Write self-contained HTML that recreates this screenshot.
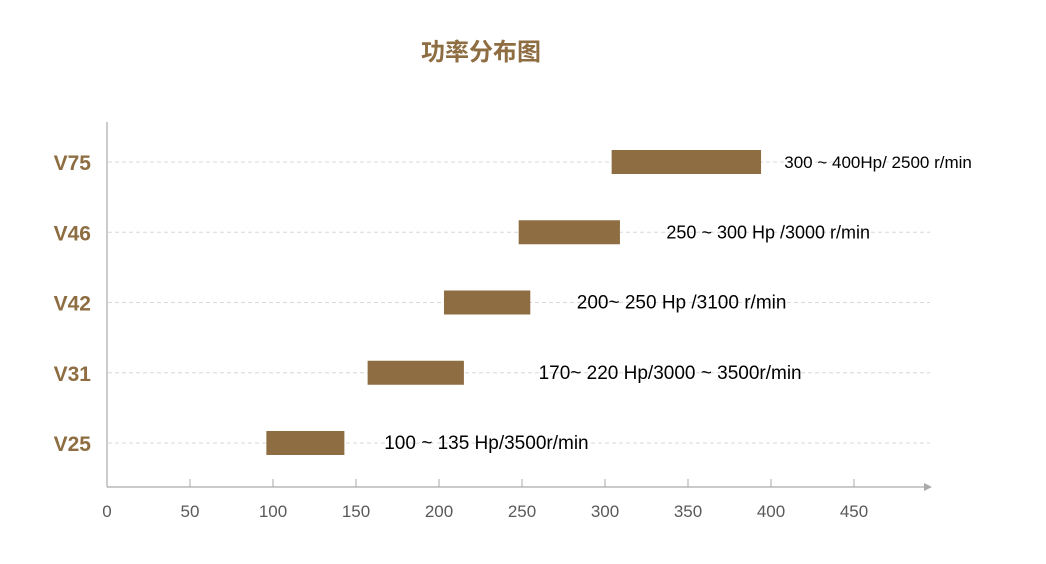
<!DOCTYPE html>
<html><head><meta charset="utf-8"><style>
html,body{margin:0;padding:0;background:#fff;width:1046px;height:564px;overflow:hidden}
text{font-family:"Liberation Sans","Noto Sans CJK SC",sans-serif}
</style></head><body>
<svg id="chart" width="1046" height="564" xmlns="http://www.w3.org/2000/svg">
<defs>
<linearGradient id="gl" x1="0" x2="1"><stop offset="0" stop-color="#8d6d41" stop-opacity="0"/><stop offset="1" stop-color="#8d6d41"/></linearGradient>
<linearGradient id="gr" x1="0" x2="1"><stop offset="0" stop-color="#8d6d41"/><stop offset="1" stop-color="#8d6d41" stop-opacity="0"/></linearGradient>
</defs>
<line x1="145" y1="50" x2="383" y2="50" stroke="url(#gl)" stroke-width="1.5"/>
<line x1="578" y1="50" x2="815" y2="50" stroke="url(#gr)" stroke-width="1.5"/>
<text x="481" y="60" text-anchor="middle" font-size="24" font-weight="bold" fill="#8d6d41">功率分布图</text>
<g id="grid"></g><g id="bars"></g><g id="axes"></g>
</svg>
<script>
const categories = ["V75","V46","V42","V31","V25"];
const startValues = [304, 248, 203, 157, 96];
const endValues = [394, 309, 255, 215, 143];
const barLabels = ["300 ~ 400Hp/ 2500 r/min","250 ~ 300 Hp /3000 r/min","200~ 250 Hp /3100 r/min","170~ 220 Hp/3000 ~ 3500r/min","100 ~ 135 Hp/3500r/min"];
const labelValues = [408, 337, 283, 260, 167];
const labelSizes = [17, 18, 19, 19, 19];
const xTicks = [0,50,100,150,200,250,300,350,400,450];

const NS="http://www.w3.org/2000/svg";
const x0=107, xScale=1.66;
const X=v=>x0+v*xScale;
const rowY=[162,233,303,373,443];
const Y=i=>rowY[0]+i*(rowY[4]-rowY[0])/(categories.length-1);
function mk(tag,attrs,parent){const e=document.createElementNS(NS,tag);for(const k in attrs)e.setAttribute(k,attrs[k]);parent.appendChild(e);return e;}
const grid=document.getElementById('grid'),bars=document.getElementById('bars'),axes=document.getElementById('axes');
categories.forEach((c,i)=>{
  const y=Y(i);
  const g=mk('line',{x1:108,x2:930,y1:y,y2:y,stroke:'#d8d8d8','stroke-dasharray':'4 3'},grid);
  
  
  const t=mk('text',{x:91,y:y+8,'text-anchor':'end','font-size':21,'font-weight':'bold',fill:'#8d6d41'},axes);
  t.textContent=c;
  
  
  const b=mk('rect',{x:X(startValues[i]),y:y-12,width:X(endValues[i])-X(startValues[i]),height:24,fill:'#8d6d41'},bars);
  
  
  const l=mk('text',{x:X(labelValues[i]),y:y+6,'font-size':labelSizes[i],fill:'#000'},bars);
  l.textContent=barLabels[i];
  
  
});
const ya=mk('line',{x1:107,x2:107,y1:122,y2:487,stroke:'#aaa','stroke-width':1.2},axes);


const xa=mk('line',{x1:107,x2:926,y1:487,y2:487,stroke:'#aaa','stroke-width':1.2},axes);


const ar=mk('path',{d:'M924 483 L932 487 L924 491 Z',fill:'#aaa'},axes);


xTicks.forEach(v=>{
  if(v>0){const tk=mk('line',{x1:X(v),x2:X(v),y1:479,y2:487,stroke:'#aaa'},axes);
  
  }
  const t=mk('text',{x:X(v),y:517,'text-anchor':'middle','font-size':17,fill:'#595959'},axes);
  t.textContent=v;
  
  
});
</script>
</body></html>
